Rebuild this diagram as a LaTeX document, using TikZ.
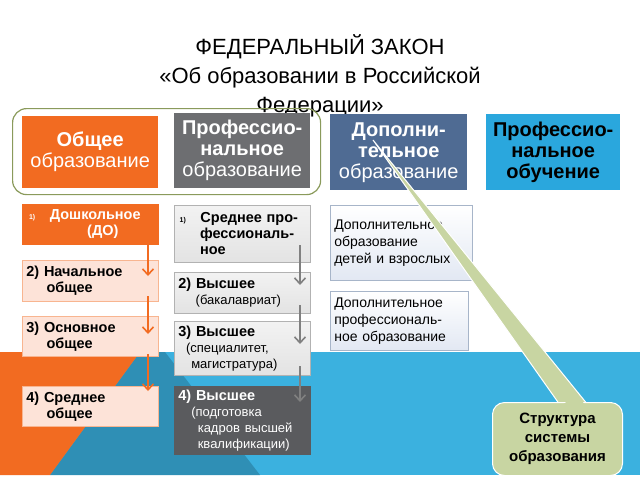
\documentclass[tikz,border=0pt]{standalone}
\usepackage{fontspec}
\setmainfont{Liberation Sans}
\usetikzlibrary{arrows.meta}
\definecolor{cor}{HTML}{F26B21}
\definecolor{cgr}{HTML}{6D6E71}
\definecolor{csl}{HTML}{4F6B93}
\definecolor{ccy}{HTML}{2AA7DD}
\definecolor{cbg}{HTML}{3BB1DF}
\definecolor{cdk}{HTML}{2F8FB5}
\definecolor{cpk}{HTML}{FDE3D8}
\definecolor{clg}{HTML}{E3E3E3}
\definecolor{cdg}{HTML}{5A5B5E}
\definecolor{clb}{HTML}{E2E8F3}
\definecolor{col}{HTML}{C8D5A2}
\definecolor{cgo}{HTML}{8A9A5B}
\begin{document}
\begin{tikzpicture}[x=1pt,y=-1pt,
 hdr/.style={anchor=north west,inner sep=0pt,align=center,font=\fontsize{20}{21}\selectfont,text=white},
 sub/.style={anchor=north west,inner xsep=4pt,inner ysep=3pt,align=left,font=\fontsize{14.5}{16}\selectfont\bfseries,draw=#1,line width=0.6pt},
 sm/.style={font=\mdseries\fontsize{13}{15}\selectfont},
 oarr/.style={draw=cor,line width=1.6pt,-{Straight Barb[length=6pt,width=11pt]}},
 garr/.style={draw=gray,line width=1.6pt,-{Straight Barb[length=6pt,width=11pt]}}]
\useasboundingbox (0,0) rectangle (640,480);
\fill[cbg] (0,352) rectangle (640,475);
\fill[cdk] (140,352) -- (165,352) -- (260,475) -- (50,475) -- cycle;
\fill[cor] (0,352) -- (140,352) -- (50,475) -- (0,475) -- cycle;
\node[font=\fontsize{22}{29}\selectfont,align=center,anchor=north] (title) at (320,31) {ФЕДЕРАЛЬНЫЙ ЗАКОН\\«Об образовании в Российской\\Федерации»};
\node[draw=cgo,line width=1.2pt,rounded corners=14pt,minimum width=308pt,minimum height=86pt,anchor=north west] (grp) at (12,108) {};
\node[hdr,fill=cor,minimum width=136pt,minimum height=72pt] (h1) at (22,116) {\textbf{Общее}\\образование};
\node[hdr,fill=cgr,minimum width=136pt,minimum height=75pt] (h2) at (174,113) {\textbf{Профессио-}\\\textbf{нальное}\\образование};
\node[hdr,fill=csl,minimum width=137pt,minimum height=76pt] (h3) at (330,114) {\textbf{Дополни-}\\\textbf{тельное}\\образование};
\node[hdr,fill=ccy,minimum width=134pt,minimum height=76pt,text=black] (h4) at (486,114) {\textbf{Профессио-}\\\textbf{нальное}\\\textbf{обучение}};
% left column
\node[sub=cor,fill=cor,text=white,text width=128pt,minimum height=40pt] (a1) at (22,204) {{\fontsize{7}{8}\selectfont\hspace*{0.4em}1)}\quad Дошкольное\\\hspace*{4.2em}(ДО)};
\node[sub=cor!50,fill=cpk,text width=128pt,minimum height=41pt] (a2) at (22,260) {2) Начальное\\\hspace*{1.4em}общее};
\node[sub=cor!50,fill=cpk,text width=128pt,minimum height=40pt] (a3) at (22,316) {3) Основное\\\hspace*{1.4em}общее};
\node[sub=cor!50,fill=cpk,text width=128pt,minimum height=40pt] (a4) at (22,386) {4) Среднее\\\hspace*{1.4em}общее};
% middle column
\node[sub=gray!60,top color=white!90!gray,bottom color=clg,text width=128pt,minimum height=57pt] (b1) at (174,205) {{\fontsize{7}{8}\selectfont\hspace*{0.2em}1)}\quad Среднее про-\\\hspace*{1.5em}фессиональ-\\\hspace*{1.5em}ное};
\node[sub=gray!60,top color=white!90!gray,bottom color=clg,text width=128pt,minimum height=41pt] (b2) at (174,272) {2) Высшее\\\hspace*{1.2em}{\mdseries\fontsize{13}{15}\selectfont (бакалавриат)}};
\node[sub=gray!60,top color=white!90!gray,bottom color=clg,text width=128pt,minimum height=54pt] (b3) at (174,321) {3) Высшее\\{\mdseries\fontsize{13}{15}\selectfont\hspace*{0.6em}(специалитет,}\\{\mdseries\fontsize{13}{15}\selectfont\hspace*{1em}магистратура)}};
\node[sub=cdg,fill=cdg,text=white,text width=128pt,minimum height=68pt] (b4) at (174,386) {4) Высшее\\{\mdseries\fontsize{13}{15}\selectfont\hspace*{1em}(подготовка}\\{\mdseries\fontsize{13}{15}\selectfont\hspace*{1.5em}кадров высшей}\\{\mdseries\fontsize{13}{15}\selectfont\hspace*{1.5em}квалификации)}};
% right column
\node[sub=csl!50,top color=white,bottom color=clb,text width=134pt,minimum height=75pt,font=\fontsize{14}{17}\selectfont] (c1) at (330,205) {Дополнительное\\образование\\детей и взрослых};
\node[sub=csl!50,top color=white,bottom color=clb,text width=130pt,minimum height=59pt,font=\fontsize{14}{17}\selectfont] (c2) at (330,291) {Дополнительное\\профессиональ-\\ное образование};
% arrows
\coordinate (o1) at (148,235); \coordinate (o1e) at (148,276);
\coordinate (o2) at (148,296); \coordinate (o2e) at (148,334);
\coordinate (o3) at (148,354); \coordinate (o3e) at (148,391);
\draw[oarr] (o1) -- (o1e); \draw[oarr] (o2) -- (o2e); \draw[oarr] (o3) -- (o3e);
\coordinate (g1) at (300,245); \coordinate (g1e) at (300,285);
\coordinate (g2) at (300,305); \coordinate (g2e) at (300,344);
\coordinate (g3) at (300,366); \coordinate (g3e) at (300,402);
\draw[garr] (g1) -- (g1e); \draw[garr] (g2) -- (g2e); \draw[garr] (g3) -- (g3e);
% callout
\coordinate (tip) at (373,140);
\fill[col,draw=white,line width=1pt] (tip) -- (560,405) -- (588,405) -- cycle;
\node[fill=col,draw=white,line width=1pt,rounded corners=12pt,minimum width=130pt,minimum height=73pt,anchor=north west,align=center,font=\fontsize{15}{19}\selectfont\bfseries] (call) at (492,402) {Структура\\системы\\образования};
\fill[col] (560,407) -- (588,407) -- (575,395) -- cycle;
\end{tikzpicture}
\end{document}
